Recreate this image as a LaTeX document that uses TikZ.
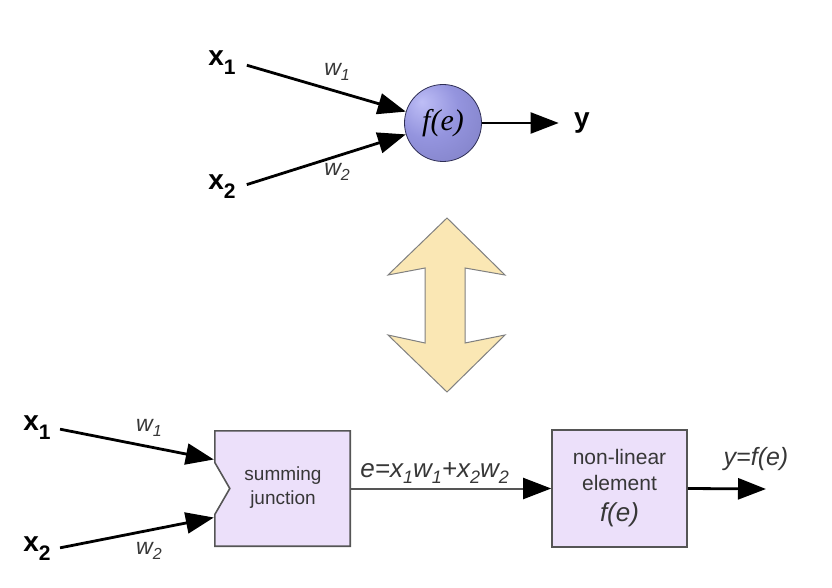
\documentclass[tikz,border=0pt]{standalone}
\usepackage{fontspec}
\setmainfont{Liberation Sans}
\newfontfamily\serifit{Liberation Serif}
\usetikzlibrary{arrows.meta,calc}

\definecolor{boxfill}{RGB}{236,224,250}
\definecolor{boxline}{RGB}{85,85,85}
\definecolor{ballin}{RGB}{190,190,246}
\definecolor{ballmid}{RGB}{148,148,222}
\definecolor{ballout}{RGB}{66,66,120}
\definecolor{arrfill}{RGB}{250,231,180}
\definecolor{arrmid}{RGB}{254,248,230}
\definecolor{labgray}{RGB}{55,55,55}

\pgfdeclareradialshading{neuron}{\pgfpoint{-14bp}{14bp}}{%
  color(0bp)=(ballin); color(20bp)=(ballmid); color(48bp)=(ballmid!70!ballout); color(72bp)=(ballout)}

\newcommand\xin[1]{x\raisebox{-9pt}{\fontsize{21}{21}\selectfont #1}}
\newcommand\wsub[2]{#1\raisebox{-5pt}{\fontsize{16}{16}\selectfont #2}}
\newcommand\esub[2]{#1\raisebox{-6pt}{\fontsize{18}{18}\selectfont #2}}

\tikzset{
  wire/.style={line width=2.8pt,-{Triangle[length=28pt,width=21pt]}},
  inp/.style={font=\fontsize{28}{28}\selectfont\bfseries},
  weight/.style={font=\fontsize{23}{23}\selectfont\itshape,text=labgray},
  blk/.style={draw=boxline,line width=1.6pt,fill=boxfill},
  blktext/.style={font=\fontsize{19}{24}\selectfont,text=labgray,align=center},
}

\begin{document}
\begin{tikzpicture}[x=1pt,y=-1pt]
  \useasboundingbox (0,0) rectangle (832,588);

  \node[inp] (x1) at (222,63) {\xin1};
  \node[inp] (x2) at (222,187) {\xin2};
  \node[circle,minimum size=77pt,inner sep=0pt,draw=ballout!70!black,line width=0.8pt,
        shading=neuron] (fe) at (443,123)
        {\fontsize{30}{30}\selectfont\serifit\itshape f(e)};
  \node[inp] (y) at (582,123) {y};
  \node[weight] (w1) at (337,72) {\wsub{w}{1}};
  \node[weight] (w2) at (337,172) {\wsub{w}{2}};

  \draw[wire,shorten <=8pt] (x1.east) -- (fe.163);
  \draw[wire,shorten <=8pt] (x2.east) -- (fe.197);
  \draw[wire,line width=2.2pt,shorten >=12pt] (fe.east) -- (y.west |- fe.east);

  \shadedraw[left color=arrfill,middle color=arrmid,right color=arrfill,draw=gray,line width=1pt]
    (447,218) -- (505,275) -- (465,268) -- (465,343) -- (505,335) -- (447,392)
    -- (388,335) -- (425,343) -- (425,268) -- (388,275) -- cycle;

  \node[inp] (bx1) at (37,428) {\xin1};
  \node[inp] (bx2) at (37,549) {\xin2};
  \node[weight] (bw1) at (149,428) {\wsub{w}{1}};
  \node[weight] (bw2) at (149,551) {\wsub{w}{2}};

  \node[minimum width=135pt,minimum height=115pt,inner sep=0pt] (sum) at (282.5,488.5) {};
  \draw[blk] (sum.north west) -- (sum.north east) -- (sum.south east) -- (sum.south west)
    -- ($(sum.west)+(0,26)$) -- ($(sum.west)+(15,0)$) -- ($(sum.west)+(0,-26)$) -- cycle;
  \node[blktext] (sumtxt) at (283,488) {summing\\junction};
  \coordinate (sin1) at ($(sum.west)+(-1,-29)$);
  \coordinate (sin2) at ($(sum.west)+(-1,29)$);

  \node[blk,blktext,font=\fontsize{21}{26}\selectfont,minimum width=135pt,minimum height=117pt,inner sep=0pt] (nl) at (619.5,488.5)
    {non-linear\\element\\[5pt]{\fontsize{26}{26}\selectfont\itshape f(e)}};
  \coordinate (yout) at (766,489);

  \draw[wire,shorten <=6pt] (bx1.east) -- (sin1);
  \draw[wire,shorten <=6pt] (bx2.east) -- (sin2);
  \draw[line width=2pt,draw=boxline,-{Triangle[length=28pt,width=21pt,black]}] (sum.east) -- (nl.west)
    node[pos=0.42,above=1pt,font=\fontsize{26}{26}\selectfont\itshape,text=labgray]
    {e=\esub{x}{1}\esub{w}{1}+\esub{x}{2}\esub{w}{2}};
  \draw[wire] (nl.east) -- (yout);
  \node[font=\fontsize{25}{25}\selectfont\itshape,text=labgray] (ylab) at (756,459) {y=f(e)};
\end{tikzpicture}
\end{document}
